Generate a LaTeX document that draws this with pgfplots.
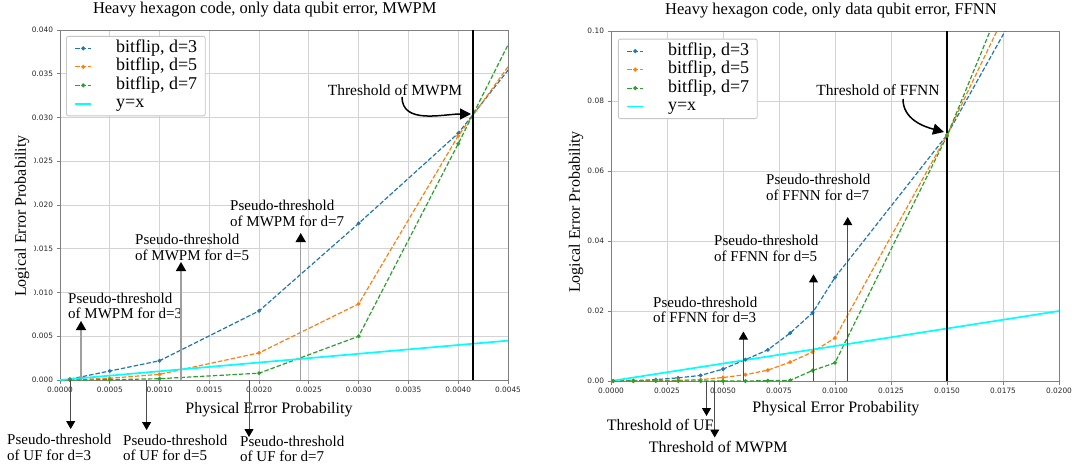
\documentclass[border=0pt]{standalone}
\usepackage{fontspec}
\setmainfont{Liberation Serif}
\newfontfamily\tickfont{DejaVu Sans}
\usepackage{pgfplots}
\pgfplotsset{compat=1.18}
\usetikzlibrary{arrows.meta}
\definecolor{tabblue}{HTML}{1F77B4}
\definecolor{taborange}{HTML}{FF7F0E}
\definecolor{tabgreen}{HTML}{2CA02C}
\definecolor{aqua}{RGB}{0,255,255}
\definecolor{framegray}{HTML}{808080}
\definecolor{gridgray}{HTML}{D3D3D3}
\pgfplotsset{
  myaxis/.style={
    scale only axis, width=448pt, height=350pt, anchor=north west,
    axis line style={framegray, line width=0.9pt},
    grid=major, grid style={gridgray, line width=0.8pt},
    tick align=outside, tick pos=left, major tick length=3.5pt,
    every tick/.style={framegray, line width=0.8pt},
    tick label style={font=\tickfont\fontsize{7.4}{8}\selectfont, text=black!85},
    /pgf/number format/assume math mode=true,
    scaled ticks=false,
    xticklabel style={/pgf/number format/fixed, /pgf/number format/fixed zerofill, /pgf/number format/precision=4},
    legend cell align=left,
    legend style={font=\fontsize{18}{19}\selectfont, draw=gray!45, line width=0.8pt, rounded corners=2pt,
      inner xsep=8pt, inner ysep=4pt, anchor=north west, row sep=2.5pt,
      nodes={inner sep=0pt, text height=12pt, text depth=4pt},
      /tikz/every odd column/.append style={column sep=24pt}},
    legend image code/.code={\draw[mark repeat=2,mark phase=2,##1] plot coordinates {(0pt,0pt) (8pt,0pt) (16pt,0pt)};},
    title style={font=\fontsize{16.5}{18}\selectfont, anchor=center},
    xlabel style={font=\fontsize{16}{18}\selectfont, anchor=center},
    ylabel style={font=\fontsize{16}{18}\selectfont, anchor=center},
  },
  ser/.style={color=#1, line width=1.2pt, dash pattern=on 4.5pt off 2pt, mark=*, mark size=1.3pt, mark options={solid}},
}
\tikzset{
  ann/.style={font=\fontsize{15}{15.5}\selectfont, align=left, anchor=west, inner sep=0pt},
  uparrow/.style={draw=gray!75, line width=1.5pt, -{Triangle[width=10pt,length=9pt,color=black]}},
  thinarrow/.style={draw=black!70, line width=0.9pt, -{Triangle[width=9pt,length=8pt,color=black]}},
}
\begin{document}
\begin{tikzpicture}
\path[use as bounding box] (0,0) rectangle (1076pt,-467pt);
% ---------------- left axis ----------------
\begin{axis}[myaxis, at={(60pt,-30pt)},
  xmin=0, xmax=0.0045, ymin=0, ymax=0.04,
  xtick={0,0.0005,0.001,0.0015,0.002,0.0025,0.003,0.0035,0.004,0.0045},
  ytick={0,0.005,0.01,0.015,0.02,0.025,0.03,0.035,0.04},
  yticklabel style={/pgf/number format/fixed, /pgf/number format/fixed zerofill, /pgf/number format/precision=3},
  title={Heavy hexagon code, only data qubit error, MWPM},
  title style={at={(axis description cs:0.457,1.04)}},
  xlabel={Physical Error Probability},
  xlabel style={at={(axis description cs:0.4665,-0.0857)}},
  ylabel={Logical Error Probability},
  ylabel style={at={(axis description cs:-0.0848,0.4686)}, fill=white, inner sep=4.5pt},
  legend style={at={(axis description cs:0.0134,0.983)}},
]
\addplot[ser=tabblue] coordinates {(0.0001,0.0001) (0.0005,0.00103) (0.001,0.0022) (0.002,0.0079) (0.003,0.0179) (0.004,0.0282) (0.005,0.0426)};
\addplot[ser=taborange] coordinates {(0.0001,0.00001) (0.0005,0.0002) (0.001,0.00065) (0.002,0.0031) (0.003,0.0087) (0.004,0.0279) (0.005,0.0437)};
\addplot[ser=tabgreen] coordinates {(0.0001,0.0) (0.0005,0.00003) (0.001,0.00015) (0.002,0.00078) (0.003,0.005) (0.004,0.027) (0.005,0.0496)};
\addplot[aqua, line width=1.7pt] coordinates {(0,0) (0.005,0.005)};
\addplot[black, line width=1.8pt, forget plot] coordinates {(0.00415,0) (0.00415,0.04)};
\legend{{bitflip, d=3}, {bitflip, d=5}, {bitflip, d=7}, {y=x}}
\end{axis}
% ---------------- right axis ----------------
\begin{axis}[myaxis, at={(611pt,-31pt)},
  xmin=0, xmax=0.02, ymin=0, ymax=0.1,
  xtick={0,0.0025,0.005,0.0075,0.01,0.0125,0.015,0.0175,0.02},
  ytick={0,0.02,0.04,0.06,0.08,0.1},
  yticklabel style={/pgf/number format/fixed, /pgf/number format/fixed zerofill, /pgf/number format/precision=2},
  title={Heavy hexagon code, only data qubit error, FFNN},
  title style={at={(axis description cs:0.491,1.04)}},
  xlabel={Physical Error Probability},
  xlabel style={at={(axis description cs:0.502,-0.0786)}},
  ylabel={Logical Error Probability},
  ylabel style={at={(axis description cs:-0.078,0.483)}},
  legend style={at={(axis description cs:0.0156,0.978)}},
]
\addplot[ser=tabblue] coordinates {(0.0001,0) (0.001,0.0001) (0.002,0.0004) (0.003,0.0009) (0.004,0.0016) (0.005,0.0034) (0.006,0.0061) (0.007,0.0089) (0.008,0.0137) (0.009,0.0195) (0.010,0.0296) (0.015,0.0703) (0.020,0.1275)};
\addplot[ser=taborange] coordinates {(0.0001,0) (0.001,0) (0.002,0.0001) (0.003,0.0002) (0.004,0.0004) (0.005,0.001) (0.006,0.0018) (0.007,0.0031) (0.008,0.0054) (0.009,0.0083) (0.010,0.0123) (0.015,0.0703) (0.020,0.137)};
\addplot[ser=tabgreen] coordinates {(0.0001,0) (0.001,0) (0.002,0) (0.003,0) (0.004,0) (0.005,0) (0.006,0) (0.007,0.0001) (0.008,0.0002) (0.009,0.003) (0.010,0.0052) (0.015,0.0700) (0.020,0.148)};
\addplot[aqua, line width=1.7pt] coordinates {(0,0) (0.02,0.02)};
\addplot[black, line width=1.8pt, forget plot] coordinates {(0.015,0) (0.015,0.1)};
\legend{{bitflip, d=3}, {bitflip, d=5}, {bitflip, d=7}, {y=x}}
\end{axis}
% ---------------- left annotations ----------------
\node[font=\fontsize{15.5}{17}\selectfont] at (395pt,-90pt) {Threshold of MWPM};
\draw[line width=1.5pt, -{Triangle[width=11pt,length=11pt]}] (402pt,-97pt) to[out=-90,in=180] (471pt,-114pt);
\draw[uparrow] (81pt,-380pt) -- (81pt,-321pt);
\node[ann] at (68pt,-306pt) {Pseudo-threshold\\of MWPM for d=3};
\draw[uparrow] (181pt,-380pt) -- (181pt,-262pt);
\node[ann] at (135pt,-247.5pt) {Pseudo-threshold\\of MWPM for d=5};
\draw[uparrow] (300.7pt,-380pt) -- (300.7pt,-233pt);
\node[ann] at (230pt,-213.3pt) {Pseudo-threshold\\of MWPM for d=7};
\draw[thinarrow] (70.7pt,-380pt) -- (70.7pt,-429pt);
\node[ann] at (7pt,-447.5pt) {Pseudo-threshold\\of UF for d=3};
\draw[thinarrow] (146.6pt,-380pt) -- (146.6pt,-430pt);
\node[ann] at (123pt,-448pt) {Pseudo-threshold\\of UF for d=5};
\draw[thinarrow] (249pt,-380pt) -- (249pt,-437pt);
\node[ann] at (240pt,-449pt) {Pseudo-threshold\\of UF for d=7};
% ---------------- right annotations ----------------
\node[font=\fontsize{15.5}{17}\selectfont] at (878pt,-90.6pt) {Threshold of FFNN};
\draw[line width=1.5pt, -{Triangle[width=11pt,length=11pt]}] (903pt,-99pt) to[out=-90,in=165] (944pt,-132pt);
\draw[thinarrow] (847.7pt,-381pt) -- (847.7pt,-217pt);
\node[ann] at (766pt,-187.5pt) {Pseudo-threshold\\of FFNN for d=7};
\draw[thinarrow] (813.5pt,-381pt) -- (813.5pt,-274.4pt);
\node[ann] at (714pt,-248.5pt) {Pseudo-threshold\\of FFNN for d=5};
\draw[thinarrow] (743.4pt,-381pt) -- (743.4pt,-331.5pt);
\node[ann] at (653pt,-310pt) {Pseudo-threshold\\of FFNN for d=3};
\draw[thinarrow] (706.5pt,-381pt) -- (706.5pt,-416pt);
\node[ann, font=\fontsize{16}{17}\selectfont] at (606.7pt,-425pt) {Threshold of UF};
\draw[thinarrow] (714.7pt,-381pt) -- (714.7pt,-437.5pt);
\node[ann, font=\fontsize{16}{17}\selectfont] at (648.7pt,-447pt) {Threshold of MWPM};
\end{tikzpicture}
\end{document}
